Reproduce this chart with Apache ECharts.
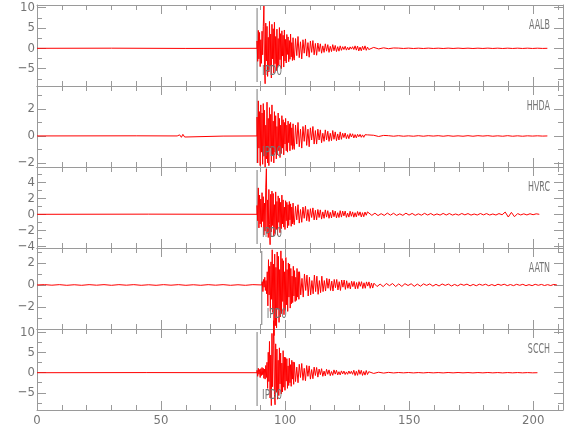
<!DOCTYPE html>
<html><head><meta charset="utf-8">
<script src="https://cdn.jsdelivr.net/npm/echarts@6/dist/echarts.min.js"></script>
<style>html,body{margin:0;padding:0;background:#fff}#c{width:580px;height:440px}</style>
</head><body><div id="c"></div>
<script>
// ---------- data ----------
const stations = ['AALB', 'HHDA', 'HVRC', 'AATN', 'SCCH'];
const pickLabel = 'IPD0';
const pickTimes = [88.7, 88.7, 88.7, 90.6, 88.7];
const onsets = [88.7, 88.7, 88.7, 90.8, 88.7];
const burstStep = 0.25;                  // sampling of the strong part (s)
const codaStep = 0.5;                    // sampling of the coda (s)
const endSteps = [2, 2, 1.25, 1.25, 2];  // sampling of the late coda (s)

const xMin = 0, xMax = 212;
const xMajorTicks = [0, 50, 100, 150, 200];
const xMinorTicks = [10, 20, 30, 40, 60, 70, 80, 90, 110, 120, 130, 140, 160, 170, 180, 190, 210];

const yMins = [-9.26, -2.3, -4.21, -4.0, -9.3];
const yMaxs = [10.64, 3.7, 5.91, 3.36, 10.9];
const yMajorTicks = [[-5, 0, 5, 10], [-2, 0, 2], [-4, -2, 0, 2, 4], [-2, 0, 2], [-5, 0, 5, 10]];
const yMinorTicks = [[-7.5, -2.5, 2.5, 7.5], [-1, 1, 3], [-3, -1, 1, 3, 5], [-3, -1, 1, 3], [-7.5, -2.5, 2.5, 7.5]];

// pre-event samples (time, value)
const aalbPreT = [0, 30, 60, 88.7];
const aalbPreV = [0, 0.03, -0.03, 0];
const hhdaPreT = [0, 40, 56.5, 57.5, 58.2, 58.8, 59.5, 60.3, 75, 88.7];
const hhdaPreV = [0, 0.01, 0, 0.08, -0.1, 0.12, -0.08, 0, -0.01, 0];
const hvrcPreT = [0, 45, 88.7];
const hvrcPreV = [0, 0.02, 0];
const aatnPreT = [0,3,6,9,12,15,18,21,24,27,30,33,36,39,42,45,48,51,54,57,60,63,66,69,72,75,78,81,84,87,90.6];
const aatnPreV = [0,0.03,-0.02,0.03,-0.03,0.02,-0.03,0.03,-0.02,0.03,-0.03,0.03,-0.02,0.03,-0.03,0.02,-0.03,0.03,-0.02,0.03,-0.03,0.02,-0.03,0.03,-0.02,0.03,-0.03,0.02,-0.03,0.03,0];
const scchPreT = [0, 44, 88.7];
const scchPreV = [0, 0.03, 0];

// strong part: from onset, every burstStep (15 s)
const aalbBurst = [1.8,-3.2,4.4,-2.6,3.9,-4.5,2.1,-3.7,4.2,-1.6,5.3,10.4,-4.8,-8.7,6.2,-3.1,5.4,-6.9,2.7,-5.8,6.6,-4.4,3.5,-7.3,5.9,-2.6,4.8,-6.1,6.4,-3.8,2.9,-5.5,4.7,-4.9,2.4,-4.2,5.1,-2.8,3.6,-5.0,4.3,-1.9,3.2,-4.6,4.5,-3.1,2.2,-3.6,3.4,-1.5,2.8,-3.3,1.9,-2.7,3.5,-2.1,1.4,-3.0,2.6,-2.4];
const hhdaBurst = [1.4,-2.0,2.6,-0.9,1.8,-2.2,2.3,-1.2,1.7,-2.1,2.4,-1.5,1.9,-2.3,0.8,-1.7,2.5,-2.0,1.3,-2.2,2.1,-0.9,1.6,-1.9,2.3,-1.4,1.1,-2.0,1.8,-1.2,1.5,-1.7,0.7,-1.4,1.7,-1.1,1.3,-1.6,0.8,-1.3,1.5,-0.9,1.2,-1.4,1.0,-0.6,1.3,-1.1,0.8,-1.2,1.1,-0.5,0.9,-1.1,1.0,-0.7,0.6,-1.0,0.9,-0.8];
const hvrcBurst = [1.1,-0.8,3.3,-1.7,2.4,-1.2,1.9,-1.6,2.7,-0.9,2.2,-2.6,1.4,-2.1,3.4,5.7,-2.4,1.8,-2.9,3.1,-1.3,-3.8,2.5,-2.2,2.9,-1.4,2.6,-2.7,1.2,-2.4,2.8,-1.9,1.6,-2.6,2.3,-1.0,2.0,-2.3,1.5,-1.8,2.4,-1.2,1.8,-1.6,0.9,-1.9,1.7,-0.8,1.5,-1.7,1.2,-1.4,1.6,-0.7,1.3,-1.5,0.9,-1.2,1.4,-1.0];
const aatnBurst = [0.3,-0.6,0.5,-0.2,0.7,-0.5,0.4,-0.8,1.2,-1.9,2.3,-0.9,1.7,-2.4,2.1,-1.3,3.2,-2.5,1.9,-4.6,2.8,-3.7,1.6,-3.9,3.0,-2.2,2.6,-3.4,1.4,-2.9,3.1,-2.6,2.4,-1.5,2.2,-2.7,1.2,-2.3,2.5,-1.8,1.4,-2.4,2.0,-1.1,1.9,-2.1,1.5,-1.7,0.8,-1.6,1.7,-1.0,1.3,-1.5,0.7,-1.4,1.5,-1.1,1.2,-1.3];
const scchBurst = [0.6,-0.9,1.1,-0.4,0.8,-1.2,1.0,-0.7,1.3,-0.5,1.1,-1.4,0.9,-1.6,1.8,-1.2,2.6,-3.9,5.1,-2.2,7.8,-6.3,4.4,-8.2,9.8,-3.5,6.7,13.0,-5.4,-8.0,7.2,-4.9,5.9,-6.6,3.1,-5.7,6.2,-2.8,4.9,-5.3,2.4,-4.8,5.5,-3.6,3.9,-4.4,3.8,-2.1,3.5,-3.9,1.7,-3.2,3.6,-2.5,2.0,-3.4,3.1,-1.6,2.7,-2.9];

// coda: after the strong part, every codaStep (30 s)
const aalbCoda = [-2.9,2.4,-1.8,2.9,-2.3,1.6,-2.6,2.1,-1.2,2.3,-1.9,1.4,-2.2,1.8,-1.0,1.9,-1.6,1.2,-1.7,1.3,-0.8,1.1,-1.2,0.6,-1.0,1.1,-0.7,0.9,-1.0,0.5,-0.8,0.9,-0.6,0.7,-0.8,0.4,-0.7,0.6,-0.5,0.4,-0.3,0.5,-0.45,0.25,-0.4,0.35,-0.2,0.4,-0.3,0.6,-0.45,0.55,-0.65,0.3,-0.6,0.5,-0.35,0.6,-0.5,0.3];
const hhdaCoda = [-1.0,0.8,-0.6,1.0,-0.8,0.5,-0.9,0.7,-0.4,0.8,-0.7,0.5,-0.8,0.6,-0.3,0.7,-0.6,0.4,-0.6,0.5,-0.3,0.45,-0.5,0.2,-0.4,0.45,-0.3,0.35,-0.4,0.2,-0.35,0.4,-0.25,0.3,-0.35,0.15,-0.3,0.3,-0.25,0.2,-0.12,0.22,-0.2,0.1,-0.2,0.18,-0.08,0.16,-0.15,0.1,-0.14,0.12,-0.06,0.12,-0.1,0.08,-0.1,0.09,-0.05,0.08];
const hvrcCoda = [-1.3,1.0,-0.7,1.2,-1.1,0.6,-1.0,0.9,-0.5,1.0,-0.8,0.6,-0.9,0.7,-0.4,0.8,-0.7,0.5,-0.7,0.6,-0.4,0.55,-0.6,0.3,-0.5,0.55,-0.35,0.45,-0.5,0.25,-0.45,0.5,-0.3,0.4,-0.45,0.2,-0.4,0.45,-0.35,0.4,-0.2,0.4,-0.38,0.15,-0.35,0.38,-0.25,0.3,-0.36,0.2,-0.32,0.35,-0.15,0.3,-0.33,0.2,-0.3,0.28,-0.12,0.3];
const aatnCoda = [1.2,-0.9,0.6,-1.1,1.0,-0.5,0.9,-1.0,0.7,-0.9,0.4,-0.8,0.9,-0.6,0.8,-0.85,0.4,-0.7,0.8,-0.6,0.4,-0.55,0.6,-0.3,0.55,-0.5,0.35,-0.55,0.5,-0.25,0.5,-0.45,0.3,-0.5,0.45,-0.2,0.45,-0.4,0.38,-0.3,0.2,-0.36,0.34,-0.15,0.32,-0.35,0.22,-0.33,0.3,-0.12,0.3,-0.32,0.2,-0.3,0.28,-0.1,0.28,-0.3,0.18,-0.28];
const scchCoda = [2.6,-2.2,1.4,-2.5,2.1,-1.2,2.3,-1.9,1.1,-2.0,1.8,-0.9,1.7,-1.6,0.8,-1.5,1.4,-0.7,1.3,-1.1,0.9,-0.5,1.0,-0.9,0.4,-0.8,0.85,-0.4,0.7,-0.75,0.3,-0.65,0.7,-0.35,0.6,-0.55,0.25,-0.55,0.45,-0.3,0.4,-0.45,0.2,-0.4,0.42,-0.25,0.35,-0.4,0.6,-0.7,0.35,-0.65,0.72,-0.4,0.6,-0.68,0.3,-0.6,0.55,-0.45];

// late coda: after the coda, every endSteps[k]
const aalbEnd = [-0.3,0.22,-0.15,0.12,-0.1,0.08,0.05,-0.04,0.05,-0.05,0.04,-0.05,0.05,-0.04,0.04,-0.05,0.05,-0.04,0.05,-0.04,0.04,-0.05,0.04,-0.04,0.05,-0.04,0.04,-0.05,0.04,-0.04,0.04,-0.04,0.04,-0.04,0.03,-0.03,0];
const hhdaEnd = [-0.06,0.05,-0.04,0.04,0.02,-0.02,0.02,-0.02,0.01,-0.02,0.02,-0.02,0.02,-0.01,0.02,-0.02,0.02,-0.02,0.01,-0.02,0.02,-0.02,0.02,-0.01,0.02,-0.02,0.01,-0.02,0.02,-0.02,0.01,-0.02,0.01,-0.01,0.01,-0.01,0];
const hvrcEnd = [0.16,-0.13,0.14,-0.16,0.08,-0.14,0.15,-0.11,0.13,-0.14,0.06,-0.13,0.14,-0.1,0.11,-0.13,0.06,-0.11,0.12,-0.09,0.1,-0.12,0.05,-0.1,0.11,-0.09,0.1,-0.1,0.04,-0.1,0.1,-0.07,0.09,-0.1,0.04,-0.09,0.1,-0.07,0.09,-0.09,0.04,-0.09,0.09,-0.06,0.28,-0.34,0.24,-0.3,0.09,-0.08,0.06,-0.08,0.07,-0.05,0.06,0];
const aatnEnd = [0.16,-0.14,0.08,-0.15,0.14,-0.06,0.13,-0.14,0.1,-0.13,0.12,-0.05,0.11,-0.12,0.08,-0.11,0.1,-0.04,0.1,-0.1,0.06,-0.09,0.09,-0.04,0.08,-0.09,0.05,-0.08,0.08,-0.03,0.08,-0.08,0.05,-0.07,0.07,-0.03,0.07,-0.07,0.04,-0.07,0.07,-0.03,0.07,-0.06,0.04,-0.06,0.06,-0.03,0.06,-0.06,0.03,-0.06,0.06,-0.03,0.05,-0.05,0.03,-0.05,0.05,0];
const scchEnd = [0.25,-0.18,0.12,-0.1,0.08,-0.06,0.05,-0.04,0.05,-0.05,0.04,-0.05,0.05,-0.04,0.04,-0.05,0.05,-0.04,0.05,-0.04,0.04,-0.05,0.04,-0.04,0.05,-0.04,0.04,-0.05,0.04,-0.04,0.04,-0.04,0.03,-0.03,0];

const preTs = [aalbPreT, hhdaPreT, hvrcPreT, aatnPreT, scchPreT];
const preVs = [aalbPreV, hhdaPreV, hvrcPreV, aatnPreV, scchPreV];
const bursts = [aalbBurst, hhdaBurst, hvrcBurst, aatnBurst, scchBurst];
const codas = [aalbCoda, hhdaCoda, hvrcCoda, aatnCoda, scchCoda];
const ends = [aalbEnd, hhdaEnd, hvrcEnd, aatnEnd, scchEnd];

// ---------- fonts ----------
function fontAvailable(f) {
  const c = document.createElement('canvas').getContext('2d');
  const s = 'AALB HVRC 0123456789 IPD';
  let r = false;
  ['monospace', 'serif'].forEach(g => {
    c.font = '40px ' + g; const a = c.measureText(s).width;
    c.font = '40px "' + f + '", ' + g; const b = c.measureText(s).width;
    if (a !== b) r = true;
  });
  return r;
}
const narrowCands = ['Liberation Sans Narrow', 'DejaVu Sans Condensed', 'Roboto Condensed', 'Noto Sans Condensed', 'Open Sans Condensed'];
const narrow = narrowCands.find(fontAvailable);
const FONT = (narrow ? '"' + narrow + '", ' : '') + '"Liberation Sans", sans-serif';
function textWidth(s, size) {
  const c = document.createElement('canvas').getContext('2d');
  c.font = size + 'px ' + FONT; return c.measureText(s).width;
}

// ---------- layout / style ----------
const AX = '#9a9a9a';
const TXT = '#747474';
const gridLeft = 37, gridRight = 17, gridTop0 = 5, panelH = 81;
const nameRight = 550, nameDy = 20, nameSize = 14, pickSize = 14;
const nameScale = Math.min(1, 21 / textWidth('AALB', nameSize));
const pickScale = Math.min(1, 20 / textWidth('IPD0', pickSize));

function buildTrace(k) {
  const d = [];
  preTs[k].forEach((t, i) => d.push([t, preVs[k][i]]));
  const t0 = onsets[k];
  bursts[k].forEach((v, i) => d.push([t0 + i * burstStep, v]));
  const t1 = t0 + bursts[k].length * burstStep;
  codas[k].forEach((v, i) => d.push([t1 + i * codaStep, v]));
  const t2 = t1 + codas[k].length * codaStep;
  ends[k].forEach((v, i) => d.push([t2 + i * endSteps[k], v]));
  return d;
}
const fmt = v => (v < 0 ? '\u2212' + Math.abs(v) : String(v));

const grids = [], xAxes = [], yAxes = [], series = [], axisIdx = [];
stations.forEach((name, k) => {
  const top = gridTop0 + k * panelH;
  grids.push({left: gridLeft, right: gridRight, top: top, height: panelH, containLabel: false});
  const last = k === stations.length - 1;
  const xBase = {gridIndex: k, type: 'value', min: xMin, max: xMax, splitLine: {show: false}};
  const xi = xAxes.length;
  xAxes.push(Object.assign({}, xBase, {position: 'bottom',
    axisLine: {show: true, onZero: false, lineStyle: {color: AX, width: 1}},
    axisTick: {show: true, inside: true, length: 9, customValues: xMajorTicks, lineStyle: {color: AX}},
    axisLabel: {show: last, customValues: xMajorTicks, color: TXT, fontSize: 13, fontFamily: FONT, margin: 4}}));
  xAxes.push(Object.assign({}, xBase, {position: 'bottom',
    axisLine: {show: false, onZero: false},
    axisTick: {show: true, inside: true, length: 5, customValues: xMinorTicks, lineStyle: {color: AX}},
    axisLabel: {show: false}}));
  xAxes.push(Object.assign({}, xBase, {position: 'top',
    axisLine: {show: true, onZero: false, lineStyle: {color: AX, width: 1}},
    axisTick: {show: true, inside: true, length: 9, customValues: xMajorTicks, lineStyle: {color: AX}},
    axisLabel: {show: false}}));
  xAxes.push(Object.assign({}, xBase, {position: 'top',
    axisLine: {show: false, onZero: false},
    axisTick: {show: true, inside: true, length: 5, customValues: xMinorTicks, lineStyle: {color: AX}},
    axisLabel: {show: false}}));

  const yBase = {gridIndex: k, type: 'value', min: yMins[k], max: yMaxs[k], splitLine: {show: false}};
  const yi = yAxes.length;
  yAxes.push(Object.assign({}, yBase, {position: 'left',
    axisLine: {show: true, onZero: false, lineStyle: {color: AX, width: 1}},
    axisTick: {show: true, inside: true, length: 9, customValues: yMajorTicks[k], lineStyle: {color: AX}},
    axisLabel: {show: true, customValues: yMajorTicks[k], formatter: fmt, color: TXT, fontSize: 13, fontFamily: FONT, margin: 2}}));
  yAxes.push(Object.assign({}, yBase, {position: 'left',
    axisLine: {show: false, onZero: false},
    axisTick: {show: true, inside: true, length: 5, customValues: yMinorTicks[k], lineStyle: {color: AX}},
    axisLabel: {show: false}}));
  yAxes.push(Object.assign({}, yBase, {position: 'right',
    axisLine: {show: true, onZero: false, lineStyle: {color: AX, width: 1}},
    axisTick: {show: true, inside: true, length: 9, customValues: yMajorTicks[k], lineStyle: {color: AX}},
    axisLabel: {show: false}}));
  yAxes.push(Object.assign({}, yBase, {position: 'right',
    axisLine: {show: false, onZero: false},
    axisTick: {show: true, inside: true, length: 5, customValues: yMinorTicks[k], lineStyle: {color: AX}},
    axisLabel: {show: false}}));
  axisIdx.push([xi, yi]);

  const span = yMaxs[k] - yMins[k];
  // pick line
  series.push({type: 'line', xAxisIndex: xi, yAxisIndex: yi, symbol: 'none', silent: true, z: 1,
    lineStyle: {color: '#7a7a7a', width: 1},
    data: [[pickTimes[k], yMins[k] + span * 4 / panelH], [pickTimes[k], yMaxs[k] - span * 3 / panelH]]});
  // trace
  series.push({type: 'line', xAxisIndex: xi, yAxisIndex: yi, symbol: 'none', silent: true, clip: false, z: 2,
    lineStyle: {color: '#ff0000', width: 1}, data: buildTrace(k)});
});

const chart = echarts.init(document.getElementById('c'), null, {renderer: 'canvas'});
chart.setOption({
  animation: false,
  backgroundColor: '#fff',
  grid: grids, xAxis: xAxes, yAxis: yAxes, series: series
});

// station names and pick labels (positioned from the axes)
const graphics = [];
stations.forEach((name, k) => {
  const top = gridTop0 + k * panelH;
  graphics.push({type: 'text', x: nameRight, y: top + nameDy, scaleX: nameScale, z: 100,
    style: {text: name, fill: TXT, font: nameSize + 'px ' + FONT, align: 'right', verticalAlign: 'middle'}});
  const span = yMaxs[k] - yMins[k];
  const p = chart.convertToPixel({xAxisIndex: axisIdx[k][0], yAxisIndex: axisIdx[k][1]},
    [pickTimes[k], yMins[k] + span * 15 / panelH]);
  graphics.push({type: 'text', x: p[0] + 5, y: p[1], scaleX: pickScale, z: 100,
    style: {text: pickLabel, fill: TXT, font: pickSize + 'px ' + FONT, align: 'left', verticalAlign: 'middle'}});
});
chart.setOption({graphic: graphics});
</script></body></html>
